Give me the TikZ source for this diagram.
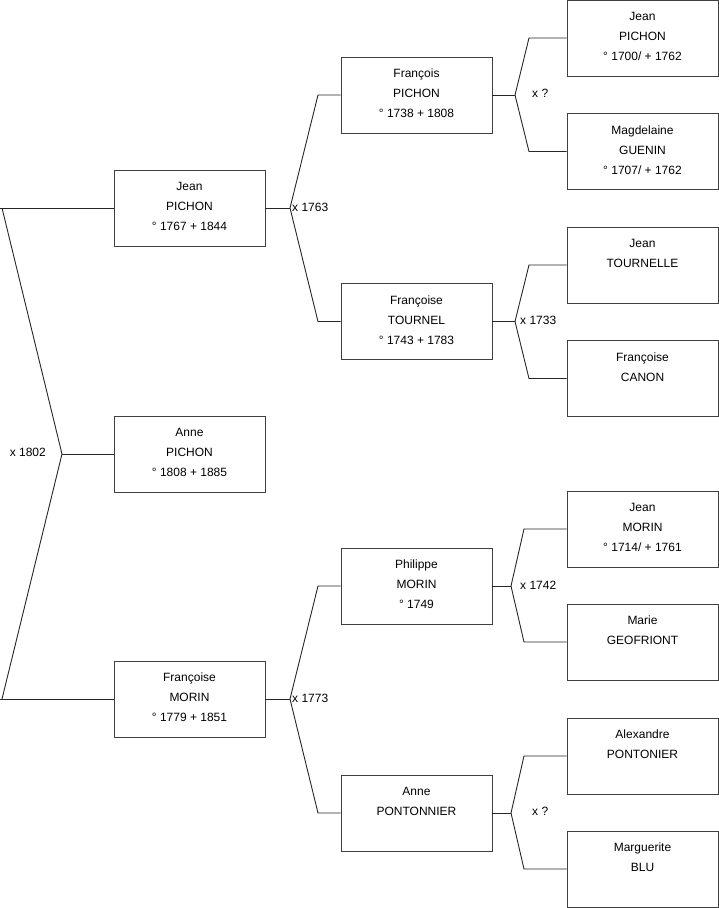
\documentclass[tikz,border=0pt]{standalone}
\usepackage{fontspec}
\setmainfont{Liberation Sans}
\begin{document}
\begin{tikzpicture}[x=1pt,y=-1pt,
  person/.style={draw=black!75, line width=0.9pt, minimum width=151pt, minimum height=76pt,
    inner sep=0pt, align=center, font=\fontsize{12}{20}\selectfont,
    execute at end node={\rule[-3.5pt]{0pt}{3.5pt}}},
  link/.style={draw=black!85, line width=0.9pt},
  marr/.style={font=\fontsize{12}{14}\selectfont, inner sep=0pt}]
\useasboundingbox (0,0) rectangle (719,908);

% generation 1
\node[person] (jp) at (189.5,208) {Jean\\PICHON\\° 1767 + 1844};
\node[person] (ap) at (189.5,454) {Anne\\PICHON\\° 1808 + 1885};
\node[person] (fm) at (189.5,699) {Françoise\\MORIN\\° 1779 + 1851};

% generation 2
\node[person] (fp)  at (416.5,95)  {François\\PICHON\\° 1738 + 1808};
\node[person] (ft)  at (416.5,321.5) {Françoise\\TOURNEL\\° 1743 + 1783};
\node[person] (pm)  at (416.5,586) {Philippe\\MORIN\\° 1749};
\node[person] (apo) at (416.5,813) {Anne\\PONTONNIER\\\mbox{}};

% generation 3
\node[person] (jp2) at (642.5,38)    {Jean\\PICHON\\° 1700/ + 1762};
\node[person] (mg)  at (642.5,151.5) {Magdelaine\\GUENIN\\° 1707/ + 1762};
\node[person] (jt)  at (642.5,265)   {Jean\\TOURNELLE\\\mbox{}};
\node[person] (fc)  at (642.5,378.5) {Françoise\\CANON\\\mbox{}};
\node[person] (jm)  at (642.5,529)   {Jean\\MORIN\\° 1714/ + 1761};
\node[person] (mgf) at (642.5,642)   {Marie\\GEOFRIONT\\\mbox{}};
\node[person] (al)  at (642.5,756)   {Alexandre\\PONTONIER\\\mbox{}};
\node[person] (mb)  at (642.5,869)   {Marguerite\\BLU\\\mbox{}};

% junction points
\coordinate (t0) at (2,208);
\coordinate (v0) at (62,454);
\coordinate (b0) at (2,699);

\coordinate (v1) at (290,208);
\coordinate (v1a) at (318,95);
\coordinate (v1b) at (318,321.5);

\coordinate (v2) at (290,699);
\coordinate (v2a) at (318,586);
\coordinate (v2b) at (318,813);

\coordinate (v3) at (515,95);
\coordinate (v3a) at (529,38);
\coordinate (v3b) at (529,151.5);

\coordinate (v4) at (515,321.5);
\coordinate (v4a) at (529,265);
\coordinate (v4b) at (529,378.5);

\coordinate (v5) at (511,586);
\coordinate (v5a) at (524,529);
\coordinate (v5b) at (524,642);

\coordinate (v6) at (511,813);
\coordinate (v6a) at (524,756);
\coordinate (v6b) at (524,869);

% connectors
\draw[link] (jp.west) -- (0,208);
\draw[link] (t0) -- (v0) -- (b0);
\draw[link] (v0) -- (ap.west);
\draw[link] (fm.west) -- (0,699);

\draw[link] (jp.east) -- (v1);
\draw[link] (fp.west) -- (v1a) -- (v1) -- (v1b) -- (ft.west);

\draw[link] (fm.east) -- (v2);
\draw[link] (pm.west) -- (v2a) -- (v2) -- (v2b) -- (apo.west);

\draw[link] (fp.east) -- (v3);
\draw[link] (jp2.west) -- (v3a) -- (v3) -- (v3b) -- (mg.west);

\draw[link] (ft.east) -- (v4);
\draw[link] (jt.west) -- (v4a) -- (v4) -- (v4b) -- (fc.west);

\draw[link] (pm.east) -- (v5);
\draw[link] (jm.west) -- (v5a) -- (v5) -- (v5b) -- (mgf.west);

\draw[link] (apo.east) -- (v6);
\draw[link] (al.west) -- (v6a) -- (v6) -- (v6b) -- (mb.west);

% marriage labels
\node[marr, anchor=east, xshift=-16pt, yshift=1.5pt] (m0) at (v0) {x 1802};
\node[marr, anchor=west, xshift=2pt, yshift=1pt] (m1) at (v1) {x 1763};
\node[marr, anchor=west, xshift=2pt, yshift=1pt] (m2) at (v2) {x 1773};
\node[marr, anchor=west, xshift=17pt, yshift=2pt] (m3) at (v3) {x ?};
\node[marr, anchor=west, xshift=5pt, yshift=1pt] (m4) at (v4) {x 1733};
\node[marr, anchor=west, xshift=9pt, yshift=1pt] (m5) at (v5) {x 1742};
\node[marr, anchor=west, xshift=21pt, yshift=2pt] (m6) at (v6) {x ?};
\end{tikzpicture}
\end{document}
